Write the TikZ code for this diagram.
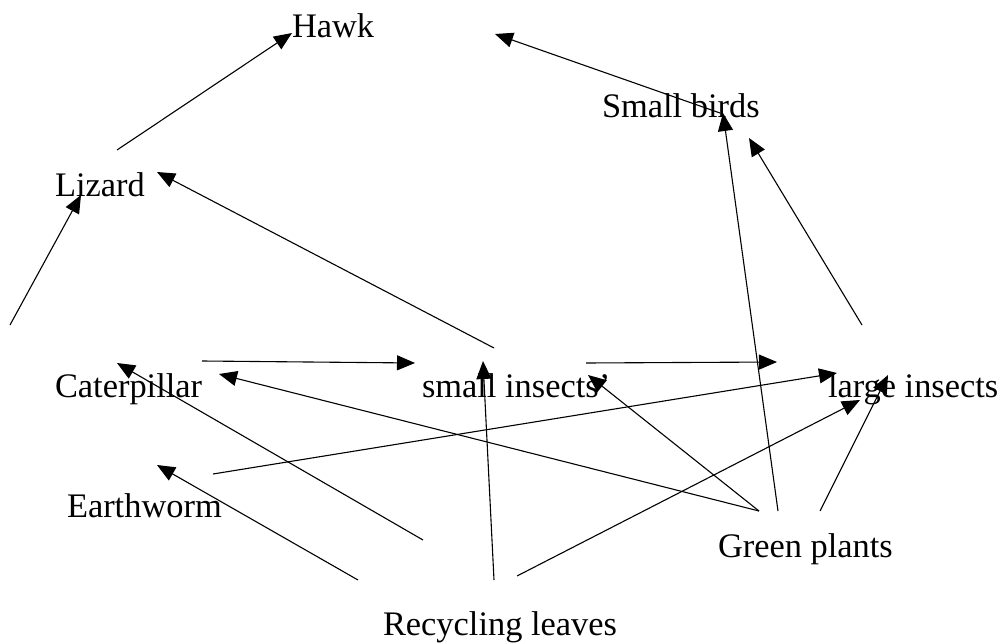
\documentclass[tikz,border=0pt]{standalone}
\usepackage{fontspec}
\setmainfont{Liberation Serif}
\usetikzlibrary{arrows.meta}
\tikzset{
  lbl/.style={anchor=base west, inner sep=0pt, outer sep=0pt, font=\fontsize{34.4}{40}\selectfont},
  link/.style={line width=1.1pt, -{Triangle[length=18pt,width=15pt]}}
}
\begin{document}
\begin{tikzpicture}[x=1pt,y=-1pt]
\useasboundingbox (0,0) rectangle (1003,644);
% labels
\node[lbl] (hawk) at (292,38) {Hawk};
\node[lbl] (birds) at (602,118) {Small birds};
\node[lbl] (lizard) at (55,197) {Lizard};
\node[lbl] (cat) at (55,397) {Caterpillar};
\node[lbl] (sins) at (422,397) {small insects’};
\node[lbl] (lins) at (828,397) {large insects};
\node[lbl] (worm) at (67,517) {Earthworm};
\node[lbl] (green) at (718,557) {Green plants};
\node[lbl] (leaves) at (383,635) {Recycling leaves};
% connector end points
\coordinate (lizT) at (117,150);   \coordinate (hawkH) at (292,33);
\coordinate (birdT) at (720,113);  \coordinate (hawkH2) at (495,34);
\coordinate (sinsT1) at (494,348); \coordinate (lizH) at (157,172);
\coordinate (freeT) at (10,325);   \coordinate (lizH2) at (81,195);
\coordinate (catT) at (202,361);   \coordinate (sinsH) at (415,363);
\coordinate (greenT1) at (759,511);\coordinate (catH) at (219,374);
\coordinate (leafT1) at (423,540); \coordinate (catH2) at (117,363);
\coordinate (wormT) at (213,474);  \coordinate (linsH) at (837,373);
\coordinate (leafT2) at (358,580); \coordinate (wormH) at (157,465);
\coordinate (leafT3) at (494,580); \coordinate (sinsH2) at (483,361);
\coordinate (sinsT2) at (586,363); \coordinate (linsH2) at (777,362);
\coordinate (sinsH3) at (588,375);
\coordinate (leafT4) at (517,576); \coordinate (linsH3) at (860,400);
\coordinate (greenT2) at (820,511);\coordinate (linsH4) at (888,375);
\coordinate (greenT3) at (778,511);\coordinate (birdH) at (723,113);
\coordinate (linsT) at (862,325);  \coordinate (birdH2) at (749,138);
% connectors
\draw[link] (lizT) -- (hawkH);
\draw[link] (birdT) -- (hawkH2);
\draw[link] (sinsT1) -- (lizH);
\draw[link] (freeT) -- (lizH2);
\draw[link] (catT) -- (sinsH);
\draw[link] (greenT1) -- (catH);
\draw[link] (leafT1) -- (catH2);
\draw[link] (wormT) -- (linsH);
\draw[link] (leafT2) -- (wormH);
\draw[link] (leafT3) -- (sinsH2);
\draw[link] (sinsT2) -- (linsH2);
\draw[link] (greenT1) -- (sinsH3);
\draw[link] (leafT4) -- (linsH3);
\draw[link] (greenT2) -- (linsH4);
\draw[link] (greenT3) -- (birdH);
\draw[link] (linsT) -- (birdH2);
\end{tikzpicture}
\end{document}
